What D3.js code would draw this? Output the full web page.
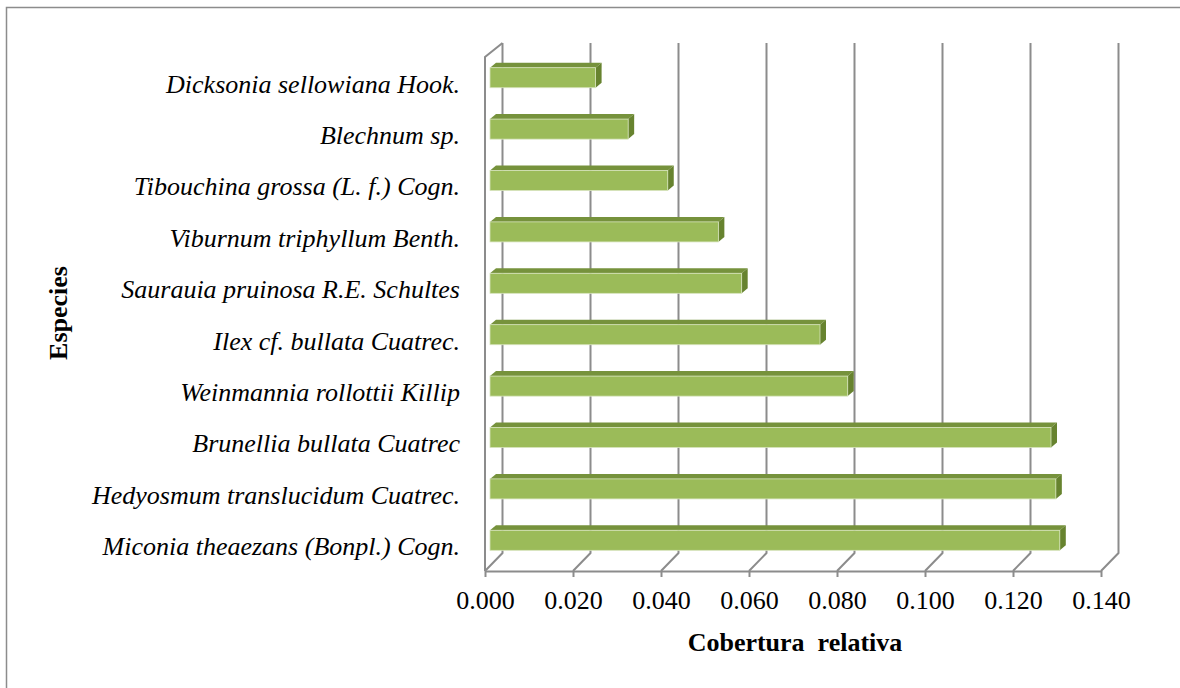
<!DOCTYPE html>
<html>
<head>
<meta charset="utf-8">
<script src="https://cdn.jsdelivr.net/npm/d3@7"></script>
<style>
  html, body { margin: 0; padding: 0; background: #fff; }
  svg { display: block; }
</style>
</head>
<body>
<div id="container"></div>
<script>
// species, top to bottom as drawn
const species = [
  "Dicksonia sellowiana Hook.",
  "Blechnum sp.",
  "Tibouchina grossa (L. f.) Cogn.",
  "Viburnum triphyllum Benth.",
  "Saurauia pruinosa R.E. Schultes",
  "Ilex cf. bullata Cuatrec.",
  "Weinmannia rollottii Killip",
  "Brunellia bullata Cuatrec",
  "Hedyosmum translucidum Cuatrec.",
  "Miconia theaezans (Bonpl.) Cogn."
];
const cobertura = [0.024, 0.0314, 0.0404, 0.0519, 0.0572, 0.075, 0.0813, 0.1275, 0.1286, 0.1295];
const xTicks = [0, 0.02, 0.04, 0.06, 0.08, 0.1, 0.12, 0.14];

const W = 1180, H = 688;
const serif = "'Liberation Serif', 'Times New Roman', serif";

const svg = d3.select("#container")
  .append("svg")
  .attr("width", W)
  .attr("height", H);

svg.append("rect")
  .attr("x", 6.5).attr("y", 7.5)
  .attr("width", W + 10).attr("height", H + 10)
  .attr("fill", "#fff")
  .attr("stroke", "#8c8c8c")
  .attr("stroke-width", 1.5);

// front plane scales (floor edge at y=571)
const x = d3.scaleLinear().domain([0, 0.14]).range([485, 1101]);
const y = d3.scaleBand().domain(species).range([57, 571])
  .paddingInner(0.61).paddingOuter(0.305);

// 3d offsets
const wall = {dx: 17.5, dy: -18};   // back wall
const barOff = {dx: 5, dy: -5};     // bar front face
const barDepth = {dx: 6, dy: -5};   // bar thickness
const gridColor = "#8c8c8c";

// back wall grid lines + floor diagonals
const grid = svg.append("g");
xTicks.forEach(t => {
  const xf = x(t), xb = x(t) + wall.dx;
  grid.append("path")
    .attr("d", `M${xb},43 L${xb},${571 + wall.dy} L${xf},571`)
    .attr("fill", "none")
    .attr("stroke", gridColor)
    .attr("stroke-width", 2);
});

// left side wall
grid.append("path")
  .attr("d", `M${x(0)},571 L${x(0)},57 L${x(0) + wall.dx},43`)
  .attr("fill", "none")
  .attr("stroke", gridColor)
  .attr("stroke-width", 2);

// x axis on the front floor edge
const xAxis = svg.append("g")
  .attr("transform", "translate(0,571)")
  .call(d3.axisBottom(x).tickValues(xTicks).tickFormat(d3.format(".3f")).tickSize(6).tickSizeOuter(0));
xAxis.select(".domain").attr("stroke", gridColor).attr("stroke-width", 2);
xAxis.selectAll(".tick line").attr("stroke", gridColor).attr("stroke-width", 2);
xAxis.selectAll(".tick text")
  .attr("y", 38).attr("dy", 0)
  .attr("fill", "#000")
  .style("font-family", serif)
  .style("font-size", "26px");

// bars
const bars = svg.append("g");
species.forEach((s, i) => {
  const x0 = x(0) + barOff.dx, x1 = x(cobertura[i]) + barOff.dx;
  const y0 = y(s) + barOff.dy, y1 = y0 + y.bandwidth();
  const g = bars.append("g");
  // top face
  g.append("path")
    .attr("d", `M${x0},${y0} L${x0 + barDepth.dx},${y0 + barDepth.dy} L${x1 + barDepth.dx},${y0 + barDepth.dy} L${x1},${y0} Z`)
    .attr("fill", "#76923c");
  // side face
  g.append("path")
    .attr("d", `M${x1},${y0} L${x1 + barDepth.dx},${y0 + barDepth.dy} L${x1 + barDepth.dx},${y1 + barDepth.dy} L${x1},${y1} Z`)
    .attr("fill", "#67832f");
  // front face
  g.append("rect")
    .attr("x", x0).attr("y", y0)
    .attr("width", x1 - x0).attr("height", y.bandwidth())
    .attr("fill", "#9bbb59")
    .attr("stroke", "#d7e4bd")
    .attr("stroke-width", 0.8);
});

// category labels
svg.append("g").selectAll("text")
  .data(species)
  .join("text")
  .attr("x", 460)
  .attr("y", d => y(d) + y.bandwidth() / 2)
  .attr("dy", "0.38em")
  .attr("text-anchor", "end")
  .style("font-family", serif)
  .style("font-style", "italic")
  .style("font-size", "26px")
  .text(d => d);

// axis titles
svg.append("text")
  .attr("x", 795).attr("y", 651)
  .attr("text-anchor", "middle")
  .style("font-family", serif)
  .style("font-weight", "bold")
  .style("font-size", "26px")
  .style("white-space", "pre")
  .text("Cobertura  relativa");

svg.append("text")
  .attr("transform", "translate(67,313) rotate(-90)")
  .attr("text-anchor", "middle")
  .style("font-family", serif)
  .style("font-weight", "bold")
  .style("font-size", "26px")
  .text("Especies");
</script>
</body>
</html>
